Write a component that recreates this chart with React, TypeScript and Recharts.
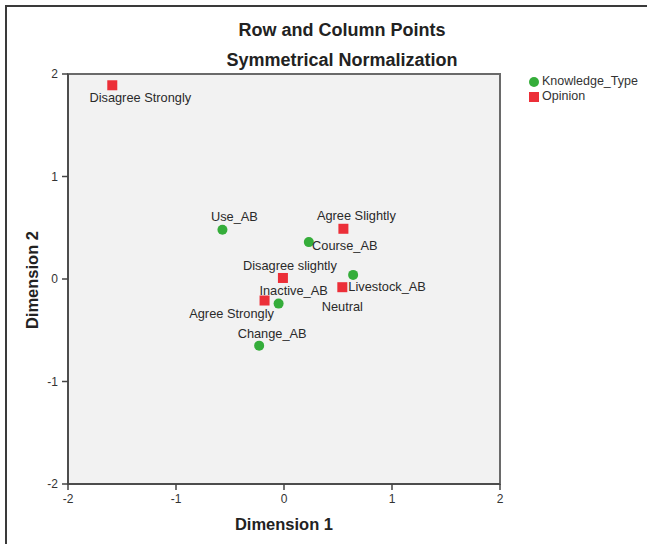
import React from 'react';
import { ScatterChart, Scatter, XAxis, YAxis, ReferenceArea } from 'recharts';

// ---- data ----
const knowledgeNames = ['Use_AB', 'Course_AB', 'Livestock_AB', 'Inactive_AB', 'Change_AB'];
const knowledgeDim1 = [-0.57, 0.23, 0.64, -0.05, -0.23];
const knowledgeDim2 = [0.48, 0.36, 0.04, -0.24, -0.65];

const opinionNames = ['Disagree Strongly', 'Agree Slightly', 'Disagree slightly', 'Neutral', 'Agree Strongly'];
const opinionDim1 = [-1.59, 0.55, -0.01, 0.54, -0.18];
const opinionDim2 = [1.89, 0.49, 0.01, -0.08, -0.21];

const axisTicks = [-2, -1, 0, 1, 2];
const seriesNames = ['Knowledge_Type', 'Opinion'];

// ---- label placement (relative to marker) ----
const LABEL_OFFSET: Record<string, [number, number]> = {
  'Use_AB': [12, -13],
  'Course_AB': [36, 3],
  'Livestock_AB': [34, 12],
  'Inactive_AB': [15, -13],
  'Change_AB': [13, -12],
  'Disagree Strongly': [28, 12],
  'Agree Slightly': [13, -13],
  'Disagree slightly': [7, -12],
  'Neutral': [0, 19],
  'Agree Strongly': [-33, 13],
};

const GREEN = '#35ad3a';
const RED = '#ec2f38';
const FONT = '"Liberation Sans", Arial, sans-serif';

const knowledgeData = knowledgeNames.map((name, i) => ({ name, x: knowledgeDim1[i], y: knowledgeDim2[i] }));
const opinionData = opinionNames.map((name, i) => ({ name, x: opinionDim1[i], y: opinionDim2[i] }));

const Label = ({ cx, cy, name }: { cx: number; cy: number; name: string }) => {
  const off = LABEL_OFFSET[name] || [0, -12];
  return (
    <text
      x={cx + off[0]}
      y={cy + off[1]}
      textAnchor="middle"
      dominantBaseline="central"
      fontFamily={FONT}
      fontSize={12.8}
      fill="#2a2a2a"
    >
      {name}
    </text>
  );
};

const CircleShape = (props: any) => {
  const { cx, cy, payload } = props;
  return (
    <g>
      <circle cx={cx} cy={cy} r={5} fill={GREEN} />
      <Label cx={cx} cy={cy} name={payload.name} />
    </g>
  );
};

const SquareShape = (props: any) => {
  const { cx, cy, payload } = props;
  return (
    <g>
      <rect x={cx - 5} y={cy - 5} width={10} height={10} fill={RED} />
      <Label cx={cx} cy={cy} name={payload.name} />
    </g>
  );
};

export default function App() {
  return (
    <div
      style={{
        position: 'absolute',
        left: 0,
        top: 0,
        width: 647,
        height: 544,
        overflow: 'hidden',
        background: '#ffffff',
        fontFamily: FONT,
      }}
    >
      <div
        style={{
          position: 'absolute',
          left: 5,
          top: 5,
          width: 642,
          height: 539,
          borderTop: '2px solid #3a3a3a',
          borderLeft: '2px solid #3a3a3a',
          boxSizing: 'border-box',
        }}
      />
      <div
        style={{
          position: 'absolute',
          left: 0,
          width: 684,
          top: 19,
          textAlign: 'center',
          fontWeight: 'bold',
          fontSize: 18,
          lineHeight: '22px',
          color: '#222',
        }}
      >
        Row and Column Points
      </div>
      <div
        style={{
          position: 'absolute',
          left: 0,
          width: 684,
          top: 49,
          textAlign: 'center',
          fontWeight: 'bold',
          fontSize: 18,
          lineHeight: '22px',
          color: '#222',
        }}
      >
        Symmetrical Normalization
      </div>

      <div style={{ position: 'absolute', left: 0, top: 0 }}>
        <ScatterChart width={647} height={544} margin={{ top: 74, right: 147, bottom: 30, left: 38 }}>
          <ReferenceArea x1={-2} x2={2} y1={-2} y2={2} fill="#f2f2f2" fillOpacity={1} stroke="#6a6a6a" strokeWidth={2} />
          <XAxis
            type="number"
            dataKey="x"
            domain={[-2, 2]}
            ticks={axisTicks}
            height={30}
            tickSize={6}
            tickMargin={4}
            axisLine={{ stroke: '#444', strokeWidth: 1.5 }}
            tickLine={{ stroke: '#444', strokeWidth: 1.5 }}
            tick={{ fill: '#333', fontSize: 12, fontFamily: FONT }}
          />
          <YAxis
            type="number"
            dataKey="y"
            domain={[-2, 2]}
            ticks={axisTicks}
            width={30}
            tickSize={6}
            tickMargin={4}
            axisLine={{ stroke: '#444', strokeWidth: 1.5 }}
            tickLine={{ stroke: '#444', strokeWidth: 1.5 }}
            tick={{ fill: '#333', fontSize: 12, fontFamily: FONT }}
          />
          <Scatter name={seriesNames[0]} data={knowledgeData} shape={CircleShape} isAnimationActive={false} />
          <Scatter name={seriesNames[1]} data={opinionData} shape={SquareShape} isAnimationActive={false} />
        </ScatterChart>
      </div>

      <div
        style={{
          position: 'absolute',
          left: 224,
          width: 120,
          top: 513,
          textAlign: 'center',
          fontWeight: 'bold',
          fontSize: 16.5,
          lineHeight: '22px',
          color: '#222',
        }}
      >
        Dimension 1
      </div>
      <div
        style={{
          position: 'absolute',
          left: -28,
          width: 120,
          top: 269,
          textAlign: 'center',
          fontWeight: 'bold',
          fontSize: 16.5,
          lineHeight: '22px',
          color: '#222',
          transform: 'rotate(-90deg)',
        }}
      >
        Dimension 2
      </div>

      <div style={{ position: 'absolute', left: 529, top: 74, fontSize: 12.5, color: '#333', lineHeight: '15px', whiteSpace: 'nowrap' }}>
        <div style={{ display: 'flex', alignItems: 'center' }}>
          <span style={{ display: 'inline-block', width: 10, height: 10, borderRadius: 5, background: GREEN, marginRight: 3 }} />
          {seriesNames[0]}
        </div>
        <div style={{ display: 'flex', alignItems: 'center' }}>
          <span style={{ display: 'inline-block', width: 10, height: 10, background: RED, marginRight: 3 }} />
          {seriesNames[1]}
        </div>
      </div>
    </div>
  );
}
